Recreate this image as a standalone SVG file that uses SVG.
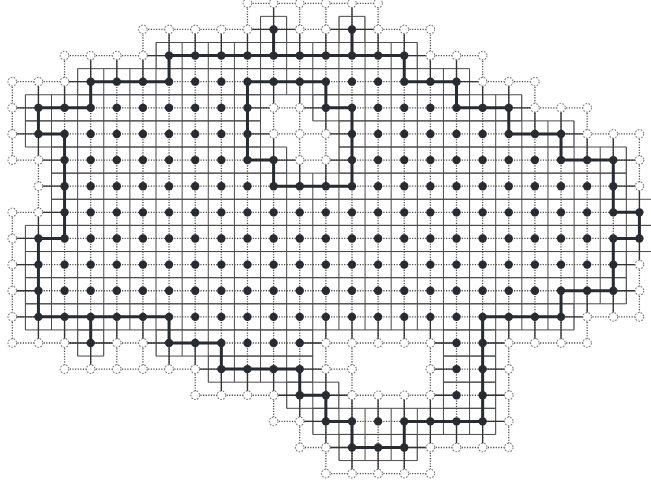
<svg xmlns="http://www.w3.org/2000/svg" width="651" height="485" viewBox="0 0 651 485">
<style>
.cell{fill:none;stroke:#4a4a4a;stroke-width:.038}
.dotl{fill:none;stroke:#4a4a4a;stroke-width:.05;stroke-dasharray:.045 .055}
.thin{fill:none;stroke:#333;stroke-width:.05}
.thick{fill:none;stroke:#272b33;stroke-width:.115;stroke-linejoin:round;stroke-linecap:round}
</style>
<defs>
<circle id="f" r=".16" fill="#272b33"/>
<circle id="o" r=".165" fill="#fff" stroke="#7a7a7a" stroke-width=".04" stroke-dasharray=".065 .05"/>
<path id="runs" d="M9.5 .5H10.5V1.5H9.5ZM12.5 .5H13.5V1.5H12.5ZM5.5 1.5H15.5V2.5H5.5ZM2.5 2.5H17.5V3.5H2.5ZM.5 3.5H9.5V4.5H.5ZM11.5 3.5H19.5V4.5H11.5ZM.5 4.5H9.5V5.5H.5ZM12.5 4.5H21.5V5.5H12.5ZM1.5 5.5H10.5V6.5H1.5ZM12.5 5.5H23.5V6.5H12.5ZM1.5 6.5H23.5V7.5H1.5ZM1.5 7.5H24.5V8.5H1.5ZM.5 8.5H24.5V9.5H.5ZM.5 9.5H23.5V10.5H.5ZM.5 10.5H23.5V11.5H.5ZM.5 11.5H21.5V12.5H.5ZM2.5 12.5H3.5V13.5H2.5ZM5.5 12.5H11.5V13.5H5.5ZM16.5 12.5H18.5V13.5H16.5ZM7.5 13.5H11.5V14.5H7.5ZM16.5 13.5H18.5V14.5H16.5ZM10.5 14.5H12.5V15.5H10.5ZM16.5 14.5H18.5V15.5H16.5ZM11.5 15.5H18.5V16.5H11.5ZM12.5 16.5H15.5V17.5H12.5Z"/>
<clipPath id="cl"><use href="#runs"/></clipPath>
</defs>
<rect width="651" height="485" fill="#fff"/>
<g transform="translate(12.3 3.3) scale(26.13)">
<g id="cells">
<path class="cell" clip-path="url(#cl)" d="M.5 0V18M1.5 0V18M2.5 0V18M3.5 0V18M4.5 0V18M5.5 0V18M6.5 0V18M7.5 0V18M8.5 0V18M9.5 0V18M10.5 0V18M11.5 0V18M12.5 0V18M13.5 0V18M14.5 0V18M15.5 0V18M16.5 0V18M17.5 0V18M18.5 0V18M19.5 0V18M20.5 0V18M21.5 0V18M22.5 0V18M23.5 0V18"/>
<use href="#runs" class="cell"/>
</g>
<g id="connectors">
<path class="dotl" d="M9 0H14M5 1H16M2 2H18M0 3H20M0 4H22M0 5H24M0 6H24M1 7H24M0 8H24M0 9H24M0 10H24M0 11H24M0 12H24M0 13H22M2 14H13M16 14H19M7 15H19M10 16H19M11 17H19M12 18H16M0 3V6M0 8V13M1 3V13M2 2V14M3 2V14M4 2V14M5 1V14M6 1V14M7 1V15M8 1V15M9 0V15M10 0V16M11 0V17M12 0V18M13 0V18M14 0V13M14 15V18M15 1V13M15 15V18M16 1V18M17 2V17M18 2V17M19 3V17M20 3V13M21 4V13M22 4V13M23 5V12M24 5V12"/>
<path class="thin" d="M9 1H11M12 1H14M5 2h1M15 2h1M2 3h1M17 3h1M0 4h1M9 4h1M11 4h1M19 4h1M0 5h1M9 5h1M12 5h1M21 5h1M1 6h1M10 6h1M12 6h1M23 6h1M1 7h1M23 7h1M1 8h1M0 9h1M0 10h1M23 10h1M0 11h1M23 11h1M0 12h1M21 12h1M2 13h2M5 13h1M11 13h1M16 13h1M18 13h1M7 14h1M11 14h1M16 14h1M18 14h1M10 15h1M12 15h1M16 15h1M18 15h1M11 16h1M18 16h1M12 17h1M15 17h1M1 3v1M1 5v1M1 8v1M1 12v1M2 3v1M2 12v1M3 2v1M3 13v1M4 2v1M4 12v1M5 2v1M5 12v1M6 1v1M6 13v1M7 1v1M7 13v1M8 1v1M8 14v1M9 1v1M9 14v1M10 0v1M10 3v1M10 5v1M10 14v1M11 1v1M11 3v1M11 6v1M11 15v1M12 1v1M12 4v1M12 6v1M12 12v1M12 14v1M12 16v1M13 0v1M13 12v1M13 15v1M13 17v1M14 1v1M14 12v1M14 15v1M14 17v1M15 1v1M15 12v1M15 15v1M15 17v1M16 2v1M16 12v1M16 15v1M16 16v1M17 2v1M17 16v1M18 3v1M18 16v1M19 3v1M19 12v1M20 4v1M20 12v1M21 4v1M21 12v1M22 5v1M22 11v1M23 5v1M23 11v1M24 7v1M24 9v1"/>
<path id="outer-contour" class="thick" d="M1 4H3V3H6V2H10V1V2H13V1V2H15V3H17V4H19V5H21V6H23V8H24V9H23V11H21V12H18V16H15V17H13V16H12V15H11V14H8V13H6V12H3V13V12H1V9H2V5H1Z"/>
<path id="hole-contour" class="thick" d="M9 3H12V4H13V7H10V6H9Z"/>
</g>
<g id="nodes">
<use id="c0-9" href="#o" x="9" y="0"/><use id="c0-10" href="#o" x="10" y="0"/><use id="c0-11" href="#o" x="11" y="0"/><use id="c0-12" href="#o" x="12" y="0"/><use id="c0-13" href="#o" x="13" y="0"/><use id="c0-14" href="#o" x="14" y="0"/>
<use id="c1-5" href="#o" x="5" y="1"/><use id="c1-6" href="#o" x="6" y="1"/><use id="c1-7" href="#o" x="7" y="1"/><use id="c1-8" href="#o" x="8" y="1"/><use id="c1-9" href="#o" x="9" y="1"/><use id="c1-11" href="#o" x="11" y="1"/><use id="c1-12" href="#o" x="12" y="1"/><use id="c1-14" href="#o" x="14" y="1"/><use id="c1-15" href="#o" x="15" y="1"/><use id="c1-16" href="#o" x="16" y="1"/>
<use id="c2-2" href="#o" x="2" y="2"/><use id="c2-3" href="#o" x="3" y="2"/><use id="c2-4" href="#o" x="4" y="2"/><use id="c2-5" href="#o" x="5" y="2"/><use id="c2-16" href="#o" x="16" y="2"/><use id="c2-17" href="#o" x="17" y="2"/><use id="c2-18" href="#o" x="18" y="2"/>
<use id="c3-0" href="#o" x="0" y="3"/><use id="c3-1" href="#o" x="1" y="3"/><use id="c3-2" href="#o" x="2" y="3"/><use id="c3-18" href="#o" x="18" y="3"/><use id="c3-19" href="#o" x="19" y="3"/><use id="c3-20" href="#o" x="20" y="3"/>
<use id="c4-0" href="#o" x="0" y="4"/><use id="c4-10" href="#o" x="10" y="4"/><use id="c4-11" href="#o" x="11" y="4"/><use id="c4-20" href="#o" x="20" y="4"/><use id="c4-21" href="#o" x="21" y="4"/><use id="c4-22" href="#o" x="22" y="4"/>
<use id="c5-0" href="#o" x="0" y="5"/><use id="c5-10" href="#o" x="10" y="5"/><use id="c5-11" href="#o" x="11" y="5"/><use id="c5-12" href="#o" x="12" y="5"/><use id="c5-22" href="#o" x="22" y="5"/><use id="c5-23" href="#o" x="23" y="5"/><use id="c5-24" href="#o" x="24" y="5"/>
<use id="c6-0" href="#o" x="0" y="6"/><use id="c6-1" href="#o" x="1" y="6"/><use id="c6-11" href="#o" x="11" y="6"/><use id="c6-12" href="#o" x="12" y="6"/><use id="c6-24" href="#o" x="24" y="6"/>
<use id="c7-1" href="#o" x="1" y="7"/><use id="c7-24" href="#o" x="24" y="7"/>
<use id="c8-0" href="#o" x="0" y="8"/><use id="c8-1" href="#o" x="1" y="8"/>
<use id="c9-0" href="#o" x="0" y="9"/>
<use id="c10-0" href="#o" x="0" y="10"/><use id="c10-24" href="#o" x="24" y="10"/>
<use id="c11-0" href="#o" x="0" y="11"/><use id="c11-24" href="#o" x="24" y="11"/>
<use id="c12-0" href="#o" x="0" y="12"/><use id="c12-22" href="#o" x="22" y="12"/><use id="c12-23" href="#o" x="23" y="12"/><use id="c12-24" href="#o" x="24" y="12"/>
<use id="c13-0" href="#o" x="0" y="13"/><use id="c13-1" href="#o" x="1" y="13"/><use id="c13-2" href="#o" x="2" y="13"/><use id="c13-4" href="#o" x="4" y="13"/><use id="c13-5" href="#o" x="5" y="13"/><use id="c13-12" href="#o" x="12" y="13"/><use id="c13-13" href="#o" x="13" y="13"/><use id="c13-14" href="#o" x="14" y="13"/><use id="c13-15" href="#o" x="15" y="13"/><use id="c13-16" href="#o" x="16" y="13"/><use id="c13-19" href="#o" x="19" y="13"/><use id="c13-20" href="#o" x="20" y="13"/><use id="c13-21" href="#o" x="21" y="13"/><use id="c13-22" href="#o" x="22" y="13"/>
<use id="c14-2" href="#o" x="2" y="14"/><use id="c14-3" href="#o" x="3" y="14"/><use id="c14-4" href="#o" x="4" y="14"/><use id="c14-5" href="#o" x="5" y="14"/><use id="c14-6" href="#o" x="6" y="14"/><use id="c14-7" href="#o" x="7" y="14"/><use id="c14-12" href="#o" x="12" y="14"/><use id="c14-13" href="#o" x="13" y="14"/><use id="c14-16" href="#o" x="16" y="14"/><use id="c14-19" href="#o" x="19" y="14"/>
<use id="c15-7" href="#o" x="7" y="15"/><use id="c15-8" href="#o" x="8" y="15"/><use id="c15-9" href="#o" x="9" y="15"/><use id="c15-10" href="#o" x="10" y="15"/><use id="c15-13" href="#o" x="13" y="15"/><use id="c15-14" href="#o" x="14" y="15"/><use id="c15-15" href="#o" x="15" y="15"/><use id="c15-16" href="#o" x="16" y="15"/><use id="c15-19" href="#o" x="19" y="15"/>
<use id="c16-10" href="#o" x="10" y="16"/><use id="c16-11" href="#o" x="11" y="16"/><use id="c16-19" href="#o" x="19" y="16"/>
<use id="c17-11" href="#o" x="11" y="17"/><use id="c17-12" href="#o" x="12" y="17"/><use id="c17-16" href="#o" x="16" y="17"/><use id="c17-17" href="#o" x="17" y="17"/><use id="c17-18" href="#o" x="18" y="17"/><use id="c17-19" href="#o" x="19" y="17"/>
<use id="c18-12" href="#o" x="12" y="18"/><use id="c18-13" href="#o" x="13" y="18"/><use id="c18-14" href="#o" x="14" y="18"/><use id="c18-15" href="#o" x="15" y="18"/><use id="c18-16" href="#o" x="16" y="18"/>
<use id="p1-10" href="#f" x="10" y="1"/><use id="p1-13" href="#f" x="13" y="1"/>
<use id="p2-6" href="#f" x="6" y="2"/><use id="p2-7" href="#f" x="7" y="2"/><use id="p2-8" href="#f" x="8" y="2"/><use id="p2-9" href="#f" x="9" y="2"/><use id="p2-10" href="#f" x="10" y="2"/><use id="p2-11" href="#f" x="11" y="2"/><use id="p2-12" href="#f" x="12" y="2"/><use id="p2-13" href="#f" x="13" y="2"/><use id="p2-14" href="#f" x="14" y="2"/><use id="p2-15" href="#f" x="15" y="2"/>
<use id="p3-3" href="#f" x="3" y="3"/><use id="p3-4" href="#f" x="4" y="3"/><use id="p3-5" href="#f" x="5" y="3"/><use id="p3-6" href="#f" x="6" y="3"/><use id="p3-7" href="#f" x="7" y="3"/><use id="p3-8" href="#f" x="8" y="3"/><use id="p3-9" href="#f" x="9" y="3"/><use id="p3-10" href="#f" x="10" y="3"/><use id="p3-11" href="#f" x="11" y="3"/><use id="p3-12" href="#f" x="12" y="3"/><use id="p3-13" href="#f" x="13" y="3"/><use id="p3-14" href="#f" x="14" y="3"/><use id="p3-15" href="#f" x="15" y="3"/><use id="p3-16" href="#f" x="16" y="3"/><use id="p3-17" href="#f" x="17" y="3"/>
<use id="p4-1" href="#f" x="1" y="4"/><use id="p4-2" href="#f" x="2" y="4"/><use id="p4-3" href="#f" x="3" y="4"/><use id="p4-4" href="#f" x="4" y="4"/><use id="p4-5" href="#f" x="5" y="4"/><use id="p4-6" href="#f" x="6" y="4"/><use id="p4-7" href="#f" x="7" y="4"/><use id="p4-8" href="#f" x="8" y="4"/><use id="p4-9" href="#f" x="9" y="4"/><use id="p4-12" href="#f" x="12" y="4"/><use id="p4-13" href="#f" x="13" y="4"/><use id="p4-14" href="#f" x="14" y="4"/><use id="p4-15" href="#f" x="15" y="4"/><use id="p4-16" href="#f" x="16" y="4"/><use id="p4-17" href="#f" x="17" y="4"/><use id="p4-18" href="#f" x="18" y="4"/><use id="p4-19" href="#f" x="19" y="4"/>
<use id="p5-1" href="#f" x="1" y="5"/><use id="p5-2" href="#f" x="2" y="5"/><use id="p5-3" href="#f" x="3" y="5"/><use id="p5-4" href="#f" x="4" y="5"/><use id="p5-5" href="#f" x="5" y="5"/><use id="p5-6" href="#f" x="6" y="5"/><use id="p5-7" href="#f" x="7" y="5"/><use id="p5-8" href="#f" x="8" y="5"/><use id="p5-9" href="#f" x="9" y="5"/><use id="p5-13" href="#f" x="13" y="5"/><use id="p5-14" href="#f" x="14" y="5"/><use id="p5-15" href="#f" x="15" y="5"/><use id="p5-16" href="#f" x="16" y="5"/><use id="p5-17" href="#f" x="17" y="5"/><use id="p5-18" href="#f" x="18" y="5"/><use id="p5-19" href="#f" x="19" y="5"/><use id="p5-20" href="#f" x="20" y="5"/><use id="p5-21" href="#f" x="21" y="5"/>
<use id="p6-2" href="#f" x="2" y="6"/><use id="p6-3" href="#f" x="3" y="6"/><use id="p6-4" href="#f" x="4" y="6"/><use id="p6-5" href="#f" x="5" y="6"/><use id="p6-6" href="#f" x="6" y="6"/><use id="p6-7" href="#f" x="7" y="6"/><use id="p6-8" href="#f" x="8" y="6"/><use id="p6-9" href="#f" x="9" y="6"/><use id="p6-10" href="#f" x="10" y="6"/><use id="p6-13" href="#f" x="13" y="6"/><use id="p6-14" href="#f" x="14" y="6"/><use id="p6-15" href="#f" x="15" y="6"/><use id="p6-16" href="#f" x="16" y="6"/><use id="p6-17" href="#f" x="17" y="6"/><use id="p6-18" href="#f" x="18" y="6"/><use id="p6-19" href="#f" x="19" y="6"/><use id="p6-20" href="#f" x="20" y="6"/><use id="p6-21" href="#f" x="21" y="6"/><use id="p6-22" href="#f" x="22" y="6"/><use id="p6-23" href="#f" x="23" y="6"/>
<use id="p7-2" href="#f" x="2" y="7"/><use id="p7-3" href="#f" x="3" y="7"/><use id="p7-4" href="#f" x="4" y="7"/><use id="p7-5" href="#f" x="5" y="7"/><use id="p7-6" href="#f" x="6" y="7"/><use id="p7-7" href="#f" x="7" y="7"/><use id="p7-8" href="#f" x="8" y="7"/><use id="p7-9" href="#f" x="9" y="7"/><use id="p7-10" href="#f" x="10" y="7"/><use id="p7-11" href="#f" x="11" y="7"/><use id="p7-12" href="#f" x="12" y="7"/><use id="p7-13" href="#f" x="13" y="7"/><use id="p7-14" href="#f" x="14" y="7"/><use id="p7-15" href="#f" x="15" y="7"/><use id="p7-16" href="#f" x="16" y="7"/><use id="p7-17" href="#f" x="17" y="7"/><use id="p7-18" href="#f" x="18" y="7"/><use id="p7-19" href="#f" x="19" y="7"/><use id="p7-20" href="#f" x="20" y="7"/><use id="p7-21" href="#f" x="21" y="7"/><use id="p7-22" href="#f" x="22" y="7"/><use id="p7-23" href="#f" x="23" y="7"/>
<use id="p8-2" href="#f" x="2" y="8"/><use id="p8-3" href="#f" x="3" y="8"/><use id="p8-4" href="#f" x="4" y="8"/><use id="p8-5" href="#f" x="5" y="8"/><use id="p8-6" href="#f" x="6" y="8"/><use id="p8-7" href="#f" x="7" y="8"/><use id="p8-8" href="#f" x="8" y="8"/><use id="p8-9" href="#f" x="9" y="8"/><use id="p8-10" href="#f" x="10" y="8"/><use id="p8-11" href="#f" x="11" y="8"/><use id="p8-12" href="#f" x="12" y="8"/><use id="p8-13" href="#f" x="13" y="8"/><use id="p8-14" href="#f" x="14" y="8"/><use id="p8-15" href="#f" x="15" y="8"/><use id="p8-16" href="#f" x="16" y="8"/><use id="p8-17" href="#f" x="17" y="8"/><use id="p8-18" href="#f" x="18" y="8"/><use id="p8-19" href="#f" x="19" y="8"/><use id="p8-20" href="#f" x="20" y="8"/><use id="p8-21" href="#f" x="21" y="8"/><use id="p8-22" href="#f" x="22" y="8"/><use id="p8-23" href="#f" x="23" y="8"/><use id="p8-24" href="#f" x="24" y="8"/>
<use id="p9-1" href="#f" x="1" y="9"/><use id="p9-2" href="#f" x="2" y="9"/><use id="p9-3" href="#f" x="3" y="9"/><use id="p9-4" href="#f" x="4" y="9"/><use id="p9-5" href="#f" x="5" y="9"/><use id="p9-6" href="#f" x="6" y="9"/><use id="p9-7" href="#f" x="7" y="9"/><use id="p9-8" href="#f" x="8" y="9"/><use id="p9-9" href="#f" x="9" y="9"/><use id="p9-10" href="#f" x="10" y="9"/><use id="p9-11" href="#f" x="11" y="9"/><use id="p9-12" href="#f" x="12" y="9"/><use id="p9-13" href="#f" x="13" y="9"/><use id="p9-14" href="#f" x="14" y="9"/><use id="p9-15" href="#f" x="15" y="9"/><use id="p9-16" href="#f" x="16" y="9"/><use id="p9-17" href="#f" x="17" y="9"/><use id="p9-18" href="#f" x="18" y="9"/><use id="p9-19" href="#f" x="19" y="9"/><use id="p9-20" href="#f" x="20" y="9"/><use id="p9-21" href="#f" x="21" y="9"/><use id="p9-22" href="#f" x="22" y="9"/><use id="p9-23" href="#f" x="23" y="9"/><use id="p9-24" href="#f" x="24" y="9"/>
<use id="p10-1" href="#f" x="1" y="10"/><use id="p10-2" href="#f" x="2" y="10"/><use id="p10-3" href="#f" x="3" y="10"/><use id="p10-4" href="#f" x="4" y="10"/><use id="p10-5" href="#f" x="5" y="10"/><use id="p10-6" href="#f" x="6" y="10"/><use id="p10-7" href="#f" x="7" y="10"/><use id="p10-8" href="#f" x="8" y="10"/><use id="p10-9" href="#f" x="9" y="10"/><use id="p10-10" href="#f" x="10" y="10"/><use id="p10-11" href="#f" x="11" y="10"/><use id="p10-12" href="#f" x="12" y="10"/><use id="p10-13" href="#f" x="13" y="10"/><use id="p10-14" href="#f" x="14" y="10"/><use id="p10-15" href="#f" x="15" y="10"/><use id="p10-16" href="#f" x="16" y="10"/><use id="p10-17" href="#f" x="17" y="10"/><use id="p10-18" href="#f" x="18" y="10"/><use id="p10-19" href="#f" x="19" y="10"/><use id="p10-20" href="#f" x="20" y="10"/><use id="p10-21" href="#f" x="21" y="10"/><use id="p10-22" href="#f" x="22" y="10"/><use id="p10-23" href="#f" x="23" y="10"/>
<use id="p11-1" href="#f" x="1" y="11"/><use id="p11-2" href="#f" x="2" y="11"/><use id="p11-3" href="#f" x="3" y="11"/><use id="p11-4" href="#f" x="4" y="11"/><use id="p11-5" href="#f" x="5" y="11"/><use id="p11-6" href="#f" x="6" y="11"/><use id="p11-7" href="#f" x="7" y="11"/><use id="p11-8" href="#f" x="8" y="11"/><use id="p11-9" href="#f" x="9" y="11"/><use id="p11-10" href="#f" x="10" y="11"/><use id="p11-11" href="#f" x="11" y="11"/><use id="p11-12" href="#f" x="12" y="11"/><use id="p11-13" href="#f" x="13" y="11"/><use id="p11-14" href="#f" x="14" y="11"/><use id="p11-15" href="#f" x="15" y="11"/><use id="p11-16" href="#f" x="16" y="11"/><use id="p11-17" href="#f" x="17" y="11"/><use id="p11-18" href="#f" x="18" y="11"/><use id="p11-19" href="#f" x="19" y="11"/><use id="p11-20" href="#f" x="20" y="11"/><use id="p11-21" href="#f" x="21" y="11"/><use id="p11-22" href="#f" x="22" y="11"/><use id="p11-23" href="#f" x="23" y="11"/>
<use id="p12-1" href="#f" x="1" y="12"/><use id="p12-2" href="#f" x="2" y="12"/><use id="p12-3" href="#f" x="3" y="12"/><use id="p12-4" href="#f" x="4" y="12"/><use id="p12-5" href="#f" x="5" y="12"/><use id="p12-6" href="#f" x="6" y="12"/><use id="p12-7" href="#f" x="7" y="12"/><use id="p12-8" href="#f" x="8" y="12"/><use id="p12-9" href="#f" x="9" y="12"/><use id="p12-10" href="#f" x="10" y="12"/><use id="p12-11" href="#f" x="11" y="12"/><use id="p12-12" href="#f" x="12" y="12"/><use id="p12-13" href="#f" x="13" y="12"/><use id="p12-14" href="#f" x="14" y="12"/><use id="p12-15" href="#f" x="15" y="12"/><use id="p12-16" href="#f" x="16" y="12"/><use id="p12-17" href="#f" x="17" y="12"/><use id="p12-18" href="#f" x="18" y="12"/><use id="p12-19" href="#f" x="19" y="12"/><use id="p12-20" href="#f" x="20" y="12"/><use id="p12-21" href="#f" x="21" y="12"/>
<use id="p13-3" href="#f" x="3" y="13"/><use id="p13-6" href="#f" x="6" y="13"/><use id="p13-7" href="#f" x="7" y="13"/><use id="p13-8" href="#f" x="8" y="13"/><use id="p13-9" href="#f" x="9" y="13"/><use id="p13-10" href="#f" x="10" y="13"/><use id="p13-11" href="#f" x="11" y="13"/><use id="p13-17" href="#f" x="17" y="13"/><use id="p13-18" href="#f" x="18" y="13"/>
<use id="p14-8" href="#f" x="8" y="14"/><use id="p14-9" href="#f" x="9" y="14"/><use id="p14-10" href="#f" x="10" y="14"/><use id="p14-11" href="#f" x="11" y="14"/><use id="p14-17" href="#f" x="17" y="14"/><use id="p14-18" href="#f" x="18" y="14"/>
<use id="p15-11" href="#f" x="11" y="15"/><use id="p15-12" href="#f" x="12" y="15"/><use id="p15-17" href="#f" x="17" y="15"/><use id="p15-18" href="#f" x="18" y="15"/>
<use id="p16-12" href="#f" x="12" y="16"/><use id="p16-13" href="#f" x="13" y="16"/><use id="p16-14" href="#f" x="14" y="16"/><use id="p16-15" href="#f" x="15" y="16"/><use id="p16-16" href="#f" x="16" y="16"/><use id="p16-17" href="#f" x="17" y="16"/><use id="p16-18" href="#f" x="18" y="16"/>
<use id="p17-13" href="#f" x="13" y="17"/><use id="p17-14" href="#f" x="14" y="17"/><use id="p17-15" href="#f" x="15" y="17"/>
</g>
</g>
</svg>
